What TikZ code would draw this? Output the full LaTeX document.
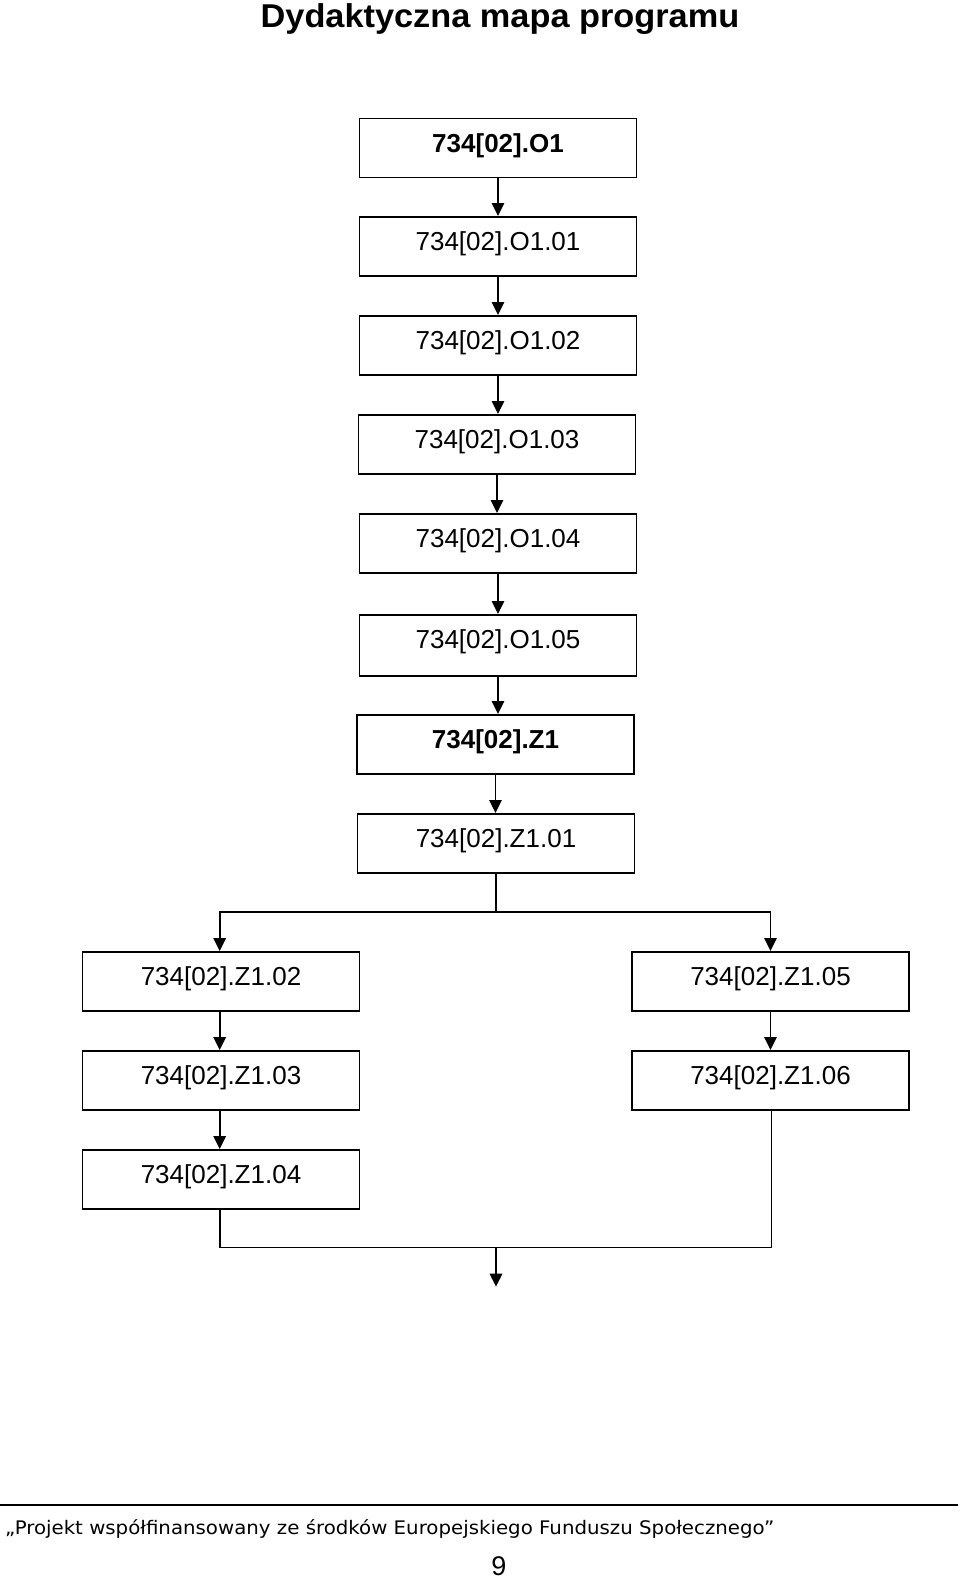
\documentclass[tikz,border=0pt]{standalone}
\usepackage{fontspec}
\setmainfont{Liberation Sans}
\newfontfamily\footfont{DejaVu Sans}
\usetikzlibrary{arrows.meta}
\tikzset{
  box/.style={draw, line width=1.8pt, rectangle, inner sep=0pt, anchor=north,
    minimum width=277pt, text height=34pt, text depth=25pt,
    font=\fontsize{26}{26}\selectfont},
  boxb/.style={box, font=\fontsize{26}{26}\selectfont\bfseries},
  conn/.style={line width=1.7pt},
  arr/.style={conn, -{Triangle[width=12.5pt,length=13pt]}}
}
\begin{document}
\begin{tikzpicture}[x=1pt,y=-1pt]
\useasboundingbox (0,0) rectangle (960,1580);
% title
\node[anchor=base, inner sep=0pt] (title) at (500,27)
  {\scalebox{1.04}[1]{\fontsize{33}{33}\selectfont\bfseries Dydaktyczna mapa programu}};
% main column
\node[boxb] (o1)   at (498,117.5) {734[02].O1};
\node[box]  (o101) at (498,216) {734[02].O1.01};
\node[box]  (o102) at (498,315) {734[02].O1.02};
\node[box]  (o103) at (497,414) {734[02].O1.03};
\node[box]  (o104) at (498,513) {734[02].O1.04};
\node[box, text depth=27pt] (o105) at (498,614) {734[02].O1.05};
\node[boxb] (z1)   at (495.5,714) {734[02].Z1};
\node[box]  (z101) at (496,813) {734[02].Z1.01};
% left column
\node[box] (z102) at (221,951) {734[02].Z1.02};
\node[box] (z103) at (221,1050) {734[02].Z1.03};
\node[box] (z104) at (221,1149) {734[02].Z1.04};
% right column
\node[box] (z105) at (770.5,951) {734[02].Z1.05};
\node[box] (z106) at (770.5,1050) {734[02].Z1.06};
% connectors
\draw[arr] (o1.south) -- (o1.south |- o101.north);
\draw[arr] (o101.south) -- (o101.south |- o102.north);
\draw[arr] (o102.south) -- (o102.south |- o103.north);
\draw[arr] (o103.south) -- (o103.south |- o104.north);
\draw[arr] (o104.south) -- (o104.south |- o105.north);
\draw[arr] (o105.south) -- (o105.south |- z1.north);
\draw[arr] (z1.south) -- (z1.south |- z101.north);
\coordinate (br) at (496,911.7);
\draw[conn] (z101.south) -- (br);
\draw[arr] (br) -| ([xshift=-1.3pt]z102.north);
\draw[arr] (br) -| (z105.north);
\draw[arr] ([xshift=-1.3pt]z102.south) -- ([xshift=-1.3pt]z103.north);
\draw[arr] ([xshift=-1.3pt]z103.south) -- ([xshift=-1.3pt]z104.north);
\draw[arr] (z105.south) -- (z106.north);
\coordinate (mg) at (496,1247.5);
\draw[conn] ([xshift=-1pt]z104.south) |- (mg);
\draw[conn] ([xshift=1pt]z106.south) |- (mg);
\coordinate (fin) at (496,1286.7);
\draw[arr] (mg) -- (fin);
% footer
\coordinate (rl) at (0,1505);
\coordinate (rr) at (958,1505);
\draw[line width=1.3pt] (rl) -- (rr);
\node[anchor=base west, inner sep=0pt] (foot) at (5,1534)
  {\resizebox{769pt}{15pt}{\footfont „Projekt współfinansowany ze środków Europejskiego Funduszu Społecznego”}};
\node[anchor=base, inner sep=0pt] (page) at (499,1575) {\fontsize{27}{27}\selectfont 9};
\end{tikzpicture}
\end{document}
